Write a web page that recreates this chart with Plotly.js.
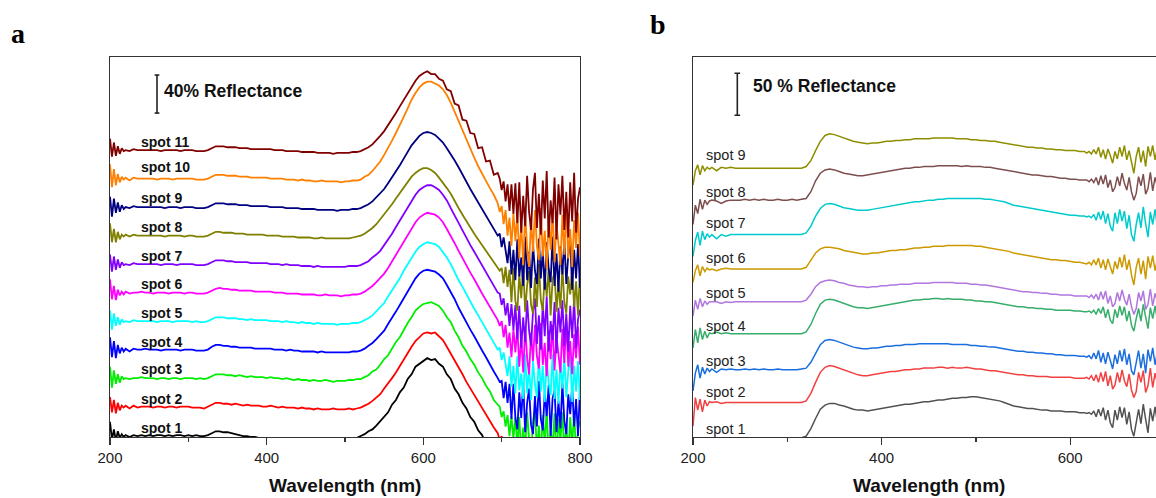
<!DOCTYPE html>
<html>
<head>
<meta charset="utf-8">
<script src="https://cdn.plot.ly/plotly-3.0.1.min.js"></script>
<style>
html,body{margin:0;padding:0;overflow:hidden;background:#fff;}
#chart{width:1170px;height:498px;}
</style>
</head>
<body>
<div id="chart"></div>
<script>
// ---------- Panel a data (wavelength in nm, reflectance in %, before stacking offsets) ----------
const wavelengthA = [200,202.5,205,207.5,210,212.5,215,217.5,220,
225,230,235,240,245,250,255,260,265,270,275,280,285,290,295,
300,305,310,315,320,325,330,335,340,345,350,355,360,365,370,375,380,385,390,395,
400,405,410,415,420,425,430,435,440,445,450,455,460,465,470,475,480,485,490,495,
500,505,510,515,520,525,530,535,540,545,550,555,560,565,570,575,580,585,590,595,
600,605,610,615,620,625,630,635,640,645,650,655,660,665,670,675,680,685,690,695,
697.5,700,702.5,705,707.5,710,712.5,715,717.5,720,722.5,725,727.5,730,732.5,735,737.5,740,742.5,745,
747.5,750,752.5,755,757.5,760,762.5,765,767.5,770,772.5,775,777.5,780,782.5,785,787.5,790,792.5,795,797.5,800];

const spotA1 = [16,-3,8,-4,6,-1,3,0,2,
0,2,1,2,1, 2,1,2,2,1,2,1,2,2,1, 2,1,2,1,1,2,4,6,6,5, 5,4,3,2,1,1,0,0,-1,-1,
-1,-2,-2,-2,-3,-3,-3,-3,-3,-3, -3,-3,-3,-3,-3,-3,-3,-3,-3,-3, -3,-3,-2,-1,1,3,6,8,12,17,
21,26,34,39,47,52,61,66,74,77, 80,83,81,82,77,74,66,61,51,45, 36,30,21,16,7,2,-7,-12,-21,-26,
-33,-38,-40,-45,-47,-50,-52,-55,-54,-58,-56,-60,-55,-58,-57,-60,-54,-59,-56,-58,
-57,-60,-55,-58,-56,-59,-57,-60,-55,-58,-57,-59,-56,-60,-55,-58,-57,-59,-56,-60,-55,-58];
const spotA2 = [12,-4,9,-5,6,-2,3,1,3,
0,3,1,2,2, 2,1,2,2,1,2,2,1,2,2, 2,1,1,1,0,2,4,6,6,5, 5,4,5,4,3,4,3,3,3,2,
2,3,2,1,2,1,1,1,0,1, 0,0,-1,0,-1,-1,-1,0,-1,-1, -1,0,-1,0,1,3,5,8,12,15,
21,26,32,38,45,51,59,65,71,75, 79,80,79,80,76,72,65,58,51,43, 36,28,21,14,8,0,-6,-13,-20,-26,
-33,-29,-44,-33,-56,-41,-65,-37,-60,-36,-75,-44,-80,-35,-66,-82,-41,-70,-34,-64,
-77,-32,-73,-52,-84,-39,-68,-34,-79,-44,-62,-80,-37,-71,-30,-75,-50,-82,-43,-66,-35,-73];
const spotA3 = [14,-8,10,-4,6,-3,4,1,2,
1,2,2,3,2, 2,2,1,2,2,1,2,2,1,2, 2,2,1,2,1,2,4,6,6,6, 5,5,4,5,4,3,4,3,3,3,
2,3,2,2,1,2,1,0,1,0, 0,-1,0,-1,-1,0,-1,-2,-1,-1, -1,0,0,1,1,3,5,9,11,16,
22,26,33,40,45,53,60,66,73,77, 80,81,82,80,78,73,66,61,52,45, 36,30,22,16,8,2,-6,-12,-21,-26,
-28,-39,-33,-49,-37,-59,-38,-62,-39,-70,-39,-79,-50,-73,-34,-62,-77,-44,-32,-75,
-48,-80,-37,-68,-30,-82,-53,-71,-35,-84,-41,-64,-34,-77,-46,-82,-39,-70,-32,-79,-52,-43];
const spotA4 = [15,-6,11,-7,7,-2,4,0,3,
0,3,2,2,3, 2,2,2,1,2,2,2,2,1,2, 2,2,1,1,1,2,5,7,7,6, 6,5,5,4,4,4,4,3,3,3,
3,3,2,2,2,1,2,1,1,0, 0,0,0,-1,0,-1,-1,-1,-1,-1, -1,-1,0,0,1,3,6,9,13,17,
22,29,35,42,49,56,63,70,77,82, 85,86,85,84,81,77,70,63,55,46, 38,31,23,16,8,1,-6,-14,-21,-28,
-32,-31,-49,-32,-54,-34,-71,-34,-70,-82,-43,-70,-33,-85,-54,-39,-77,-87,-47,-79,
-31,-71,-83,-43,-68,-35,-89,-49,-41,-85,-52,-81,-33,-73,-87,-45,-66,-37,-79,-50,-89,-39];
const spotA5 = [13,-7,10,-3,6,-2,4,1,2,
1,3,2,2,2, 2,2,1,2,2,2,1,2,2,2, 2,1,2,1,1,2,4,6,6,6, 5,5,5,4,4,3,4,3,3,3,
3,2,2,2,1,2,1,1,0,1, 0,0,-1,0,-1,-1,-1,-1,-2,-1, -1,-1,0,0,1,3,5,8,12,16,
21,28,34,40,47,55,62,69,75,80, 83,85,84,83,80,75,69,62,53,45, 38,30,22,15,8,1,-6,-14,-20,-28,
-26,-39,-31,-46,-56,-35,-67,-45,-74,-35,-71,-53,-80,-33,-74,-47,-81,-40,-65,-78,
-35,-72,-45,-83,-38,-63,-76,-33,-80,-49,-85,-42,-69,-36,-78,-51,-35,-83,-45,-72,-40,-81];
const spotA6 = [16,-5,9,-6,5,-1,3,0,3,
1,2,2,3,2, 2,1,2,2,2,1,2,2,2,1, 2,2,1,1,1,2,4,6,7,6, 6,5,5,4,4,4,4,3,3,3,
3,3,2,2,2,1,1,1,1,0, 0,0,0,-1,-1,0,-1,-1,-1,-2, -1,-1,0,0,1,3,6,9,13,17,
22,28,35,41,48,56,63,70,76,81, 84,86,85,84,81,76,69,62,54,46, 38,30,23,16,8,1,-6,-13,-20,-27,
-33,-28,-45,-32,-56,-40,-66,-36,-61,-35,-76,-44,-82,-34,-67,-84,-40,-70,-32,-65,
-78,-30,-74,-51,-86,-38,-68,-32,-80,-44,-63,-82,-36,-72,-28,-76,-49,-84,-42,-67,-34,-74];
const spotA7 = [12,-6,10,-4,7,-2,4,1,2,
1,3,2,2,2, 2,2,2,1,2,2,2,1,2,2, 2,2,1,1,1,2,4,6,6,6, 5,5,4,4,4,4,3,3,3,3,
3,2,2,2,1,2,1,1,1,0, 0,0,-1,0,-1,-1,-1,-1,-1,-1, -1,0,0,0,1,3,5,9,12,16,
22,27,34,41,48,55,62,69,75,80, 83,85,85,83,80,75,69,61,53,46, 38,30,22,15,8,1,-7,-14,-21,-28,
-29,-41,-34,-52,-39,-63,-40,-67,-41,-77,-42,-86,-54,-80,-36,-68,-84,-48,-34,-82,
-52,-88,-40,-74,-32,-90,-58,-78,-38,-92,-44,-70,-36,-84,-50,-90,-42,-76,-34,-86,-56,-46];
const spotA8 = [15,-5,9,-5,6,-2,3,1,3,
1,3,2,2,2, 2,2,2,2,1,2,2,2,2,1, 2,2,1,1,1,2,4,6,6,5, 5,5,4,4,4,3,3,3,3,3,
2,2,2,2,1,1,1,1,0,0, 0,0,-1,-1,0,-1,-1,-1,-1,-1, -1,-1,0,1,2,4,7,10,14,19,
24,29,35,41,47,53,59,64,68,71, 73,73,71,68,63,58,52,46,38,31, 24,17,10,4,-2,-8,-14,-20,-26,-31,
-35,-32,-48,-31,-52,-34,-68,-32,-67,-77,-39,-64,-30,-78,-50,-35,-71,-80,-42,-73,
-28,-66,-77,-39,-62,-32,-82,-44,-37,-78,-48,-75,-30,-68,-80,-41,-60,-33,-73,-46,-82,-35];
const spotA9 = [13,-8,11,-4,7,-3,4,0,2,
1,3,2,2,2, 2,2,2,2,1,2,2,2,1,2, 2,2,1,1,1,2,4,6,6,6, 5,5,5,4,4,4,3,3,3,3,
3,2,2,2,2,1,1,1,1,0, 0,0,0,-1,-1,-1,-1,-1,-2,-1, -1,-1,0,0,1,3,5,8,12,16,
21,27,33,39,46,53,60,67,72,77, 80,81,80,78,74,70,64,58,51,44, 36,28,21,14,7,0,-7,-14,-20,-28,
-26,-40,-30,-46,-57,-34,-69,-43,-75,-32,-71,-51,-81,-29,-75,-45,-83,-37,-65,-79,
-31,-73,-43,-85,-35,-63,-77,-29,-81,-47,-87,-39,-69,-33,-79,-49,-31,-85,-43,-73,-37,-83];
const spotA10 = [17,-7,12,-5,7,-2,4,1,3,
0,3,2,2,2, 2,2,1,2,2,2,1,2,2,2, 2,2,1,1,1,2,4,6,6,6, 5,5,5,4,4,4,3,3,3,3,
3,2,2,2,2,1,1,1,0,1, 0,0,-1,-1,0,-1,-1,-1,-1,-2, -1,-1,0,0,1,4,6,10,15,20,
27,34,42,50,58,67,76,85,92,98, 102,104,104,102,100,96,90,82,72,63, 53,44,34,24,15,7,0,-8,-15,-24,
-33,-27,-46,-31,-58,-39,-69,-34,-64,-35,-82,-45,-89,-34,-71,-91,-40,-75,-31,-69,
-84,-29,-80,-53,-93,-38,-73,-31,-86,-45,-67,-89,-36,-78,-27,-82,-51,-91,-42,-71,-34,-80];
const spotA11 = [14,-5,10,-4,6,-2,4,1,2,
1,3,2,2,2, 2,2,2,1,2,2,2,2,1,2, 2,2,1,1,1,2,4,6,6,6, 5,5,5,4,4,4,3,3,3,3,
3,3,2,2,2,1,1,1,1,0, 0,0,0,-1,-1,-1,-1,-2,-1,-1, -1,-1,0,0,1,3,5,8,12,17,
22,28,34,41,48,55,62,69,75,80, 83,85,82,82,77,75,66,64,51,49, 34,33,20,19,4,5,-10,-9,-24,-22,
-28,-40,-31,-52,-34,-62,-34,-65,-33,-75,-32,-85,-46,-78,-25,-63,-82,-39,-22,-80,
-44,-87,-30,-70,-20,-90,-51,-75,-27,-92,-34,-66,-25,-82,-42,-90,-32,-73,-22,-85,-49,-37];

const seriesA = [spotA1,spotA2,spotA3,spotA4,spotA5,spotA6,spotA7,spotA8,spotA9,spotA10,spotA11];
const namesA = ['spot 1','spot 2','spot 3','spot 4','spot 5','spot 6','spot 7','spot 8','spot 9','spot 10','spot 11'];
const offsetsA = [0,30,60,90,120,150,180,210,240,270,300];

// ---------- Panel b data ----------
const wavelengthB = [200,202.5,205,207.5,210,212.5,215,217.5,220,
225,230,235,240,245,250,255,260,265,270,275,280,285,290,295,
300,305,310,315,320,325,330,335,340,345,350,355,360,365,370,375,380,385,390,395,
400,405,410,415,420,425,430,435,440,445,450,455,460,465,470,475,480,485,490,495,
500,505,510,515,520,525,530,535,540,545,550,555,560,565,570,575,580,585,590,595,
600,605,610,615,
617.5,620,622.5,625,627.5,630,632.5,635,637.5,640,642.5,645,647.5,650,652.5,655,657.5,660,662.5,665,667.5,670,
672.5,675,677.5,680,682.5,685,687.5,690,692.5,695,697.5,700];

const spotB1 = [-4,-2,-3,-1,-2,-1,-1,-1,-1,
-1,-1,-1,-1,-1, -1,-1,-1,-1,-1,-1,-1,-1,-1,-1, -1,-1,-1,-1,1,10,22,33,38,40, 40,38,37,35,33,32,32,31,32,33,
34,35,36,37,38,39,39,40,41,42, 42,43,44,44,45,46,46,47,47,48, 48,47,46,45,44,43,41,39,37,36,
35,34,34,33,32,32,31,31,31,30, 30,30,29,29,
28,29,27,31,24,33,25,35,20,32,17,11,32,20,36,23,35,15,30,9,1,19,
33,16,39,21,5,34,19,36,17,31,38,22];
const spotB2 = [-27,7,-8,5,-10,4,-3,2,1,
2,0,1,1,1, 1,1,1,1,1,1,1,1,1,1, 1,1,1,1,3,12,25,37,43,45, 44,42,40,38,36,34,33,33,34,35,
36,37,38,38,39,40,40,41,41,42, 42,42,43,43,42,43,42,42,43,42, 41,41,40,39,39,38,37,36,35,34,
34,33,33,32,32,32,31,31,31,31, 31,30,30,30,
31,29,33,27,34,25,37,26,38,21,33,17,22,37,25,40,27,20,35,16,7,14,
37,25,39,13,21,42,19,36,24,42,21,37];
const spotB3 = [-25,-4,6,-10,3,-5,2,-2,1,
-3,1,0,1,0, 0,1,0,1,0,1,0,0,1,0, 0,0,0,1,2,9,20,30,35,36, 35,33,31,29,27,26,25,25,26,26,
27,28,28,29,29,30,30,30,31,31, 31,31,31,31,31,30,30,30,30,29, 29,28,28,27,27,26,25,24,23,22,
22,21,21,20,20,19,19,18,18,17, 17,17,16,16,
15,17,13,20,13,23,9,20,7,21,11,1,18,7,23,10,25,6,19,-1,-6,10,
23,2,19,-4,24,10,26,6,22,7,27,9];
const spotB4 = [-14,8,-8,10,-4,6,-2,4,3,
5,3,4,3,3, 3,3,3,3,3,3,3,3,3,3, 3,3,3,3,5,14,27,38,43,44, 43,41,39,37,35,34,34,33,34,35,
36,37,38,39,40,41,42,43,43,44, 44,45,45,44,45,44,44,44,43,43, 42,42,41,41,40,39,38,37,36,35,
35,34,34,33,33,32,32,31,31,31, 31,30,30,29,
29,30,28,31,26,33,27,35,22,32,19,15,32,22,36,25,35,18,30,13,6,21,
33,18,38,23,9,34,21,36,19,31,37,24];
const spotB5 = [-16,3,-8,5,-5,2,-2,1,1,
1,-1,1,0,1, 1,1,1,1,1,1,1,1,1,1, 1,1,1,1,3,10,19,24,26,27, 26,24,23,21,20,19,19,18,19,19,
20,20,21,21,22,22,22,23,23,23, 23,24,24,24,24,24,23,23,23,22, 22,21,21,20,19,18,17,16,15,14,
13,13,12,12,11,11,10,10,9,9, 9,8,8,8,
8,6,9,5,10,3,13,4,14,-1,8,-5,-1,12,2,15,4,-3,10,-5,-14,-7,
12,2,14,-8,-2,16,-4,11,1,16,-2,12];
const spotB6 = [-16,-2,5,-8,3,-3,1,-1,0,
-2,0,1,0,0, 0,0,0,0,0,0,0,0,0,0, 0,0,0,0,2,10,19,24,26,26, 25,24,22,21,20,19,18,18,19,19,
20,21,22,22,23,23,24,25,25,26, 26,27,27,27,28,28,28,28,28,28, 27,27,26,25,24,23,22,21,19,18,
17,16,15,14,13,12,11,11,10,10, 9,8,8,7,
6,8,5,11,5,13,1,11,-1,12,3,-6,9,0,14,2,17,-1,11,-7,-19,2,
13,-6,10,-12,15,1,16,-2,12,-1,17,0];
const spotB7 = [-25,-6,4,-12,5,-5,2,-2,1,
-4,1,-1,1,1, 1,1,1,1,1,1,1,1,1,1, 1,1,1,1,3,11,23,32,37,38, 37,35,33,32,31,30,30,30,31,32,
33,34,35,36,37,38,39,40,40,41, 42,42,43,43,44,44,44,44,44,44, 44,44,43,43,42,41,40,38,36,35,
34,33,32,31,30,29,28,27,26,25, 24,24,23,23,
22,23,21,25,18,28,19,29,14,26,11,5,27,14,31,17,29,8,24,1,-7,13,
27,9,34,14,-2,28,13,31,10,26,33,16];
const spotB8 = [-27,-4,-14,3,-9,2,-3,1,2,
1,-2,1,2,2, 2,3,2,3,2,3,2,2,3,2, 2,3,2,3,4,12,25,34,38,39, 38,36,34,33,32,31,31,32,33,34,
35,36,37,38,39,40,40,41,41,42, 42,42,43,43,43,43,43,42,43,42, 42,42,41,41,40,39,38,37,36,35,
34,33,32,32,31,30,30,29,28,28, 27,27,26,26,
26,24,27,23,29,20,31,21,32,17,26,12,17,30,19,34,22,14,29,12,2,10,
30,19,33,9,16,35,13,29,18,35,16,30];
const spotB9 = [-20,-3,4,-8,3,-3,1,-1,1,
-3,1,0,1,0, 0,0,0,0,0,0,0,0,0,0, 0,0,0,0,2,9,21,32,39,41, 40,38,36,34,32,31,30,29,30,30,
31,32,32,33,33,34,34,35,35,35, 35,36,36,36,36,36,35,35,35,34, 34,33,33,32,32,31,30,29,28,27,
26,25,25,24,24,23,23,22,22,21, 21,21,20,20,
18,20,17,22,17,25,13,22,11,23,15,6,20,11,25,14,27,10,21,5,-6,14,
25,7,21,2,26,14,27,10,24,11,28,13];

const seriesB = [spotB1,spotB2,spotB3,spotB4,spotB5,spotB6,spotB7,spotB8,spotB9];
const namesB = ['spot 1','spot 2','spot 3','spot 4','spot 5','spot 6','spot 7','spot 8','spot 9'];
const offsetsB = [0,40,80,120,160,200,240,280,320];

// ---------- Styles ----------
const colorsA = ['#000000','#ff0000','#00ee00','#0000ff','#00ffff','#ff00ff','#8000ff','#808000','#000080','#ff8000','#800000'];
const colorsB = ['#515151','#f14040','#1a6fdf','#37ad6b','#b177de','#cc9900','#00cbcc','#7d4e4e','#8e8e00'];
const labelYA = [9.5,40,71.6,100,130.5,161,190.5,221,252,284,310.5];
const labelYB = [9,53,91,132.7,172,213.7,255,292,336];

const W = 1170, H = 498;
const traces = [];
seriesA.forEach((s,i)=>{
  traces.push({x: wavelengthA, y: s.map(v=>v+offsetsA[i]), type:'scatter', mode:'lines',
    name: namesA[i], xaxis:'x', yaxis:'y', line:{color: colorsA[i], width:1.8}, hoverinfo:'skip'});
});
seriesB.forEach((s,i)=>{
  traces.push({x: wavelengthB, y: s.map(v=>v+offsetsB[i]), type:'scatter', mode:'lines',
    name: namesB[i], xaxis:'x2', yaxis:'y2', line:{color: colorsB[i], width:1.5}, hoverinfo:'skip'});
});

const FONT = 'Liberation Sans, Arial, sans-serif';
const yDom = [(H-437)/H, (H-57)/H];
const axLine = {showline:true, mirror:true, linecolor:'#333', linewidth:1.3, showgrid:false, zeroline:false};

const annotations = [];
namesA.forEach((n,i)=>annotations.push({xref:'x', yref:'y', x:236.5, y:labelYA[i], text:'<b>'+n+'</b>',
  showarrow:false, xanchor:'left', yanchor:'middle', font:{family:FONT, size:14, color:'#111'}}));
namesB.forEach((n,i)=>annotations.push({xref:'x2', yref:'y2', x:211.5, y:labelYB[i], text:n,
  showarrow:false, xanchor:'left', yanchor:'middle', font:{family:FONT, size:14.5, color:'#222'}}));
annotations.push({xref:'x', yref:'y', x:266, y:364, text:'<b>40% Reflectance</b>', showarrow:false,
  xanchor:'left', yanchor:'middle', font:{family:FONT, size:17.5, color:'#111'}});
annotations.push({xref:'x2', yref:'y2', x:261, y:418, text:'<b>50 % Reflectance</b>', showarrow:false,
  xanchor:'left', yanchor:'middle', font:{family:FONT, size:17.5, color:'#111'}});
annotations.push({xref:'paper', yref:'paper', x:345/W, y:0, text:'<b>Wavelength (nm)</b>', showarrow:false,
  xanchor:'center', yanchor:'bottom', font:{family:FONT, size:19, color:'#111'}});
annotations.push({xref:'paper', yref:'paper', x:929/W, y:0, text:'<b>Wavelength (nm)</b>', showarrow:false,
  xanchor:'center', yanchor:'bottom', font:{family:FONT, size:19, color:'#111'}});
annotations.push({xref:'paper', yref:'paper', x:18/W, y:1-33/H, text:'<b>a</b>', showarrow:false,
  xanchor:'center', yanchor:'middle', font:{family:'Liberation Serif, Times New Roman, serif', size:28, color:'#000'}});
annotations.push({xref:'paper', yref:'paper', x:658/W, y:1-24/H, text:'<b>b</b>', showarrow:false,
  xanchor:'center', yanchor:'middle', font:{family:'Liberation Serif, Times New Roman, serif', size:28, color:'#000'}});

const barStyle = {color:'#222', width:1.6};
const shapes = [
  {type:'line', xref:'x', yref:'y', x0:260, x1:260, y0:341, y1:381, line:barStyle},
  {type:'line', xref:'x', yref:'y', x0:257, x1:263, y0:341, y1:341, line:barStyle},
  {type:'line', xref:'x', yref:'y', x0:257, x1:263, y0:381, y1:381, line:barStyle},
  {type:'line', xref:'x2', yref:'y2', x0:247, x1:247, y0:383, y1:433, line:barStyle},
  {type:'line', xref:'x2', yref:'y2', x0:244, x1:250, y0:383, y1:383, line:barStyle},
  {type:'line', xref:'x2', yref:'y2', x0:244, x1:250, y0:433, y1:433, line:barStyle}
];

const layout = {
  width:W, height:H, margin:{l:0,r:0,t:0,b:0}, showlegend:false,
  paper_bgcolor:'#fff', plot_bgcolor:'#fff',
  xaxis: Object.assign({}, axLine, {domain:[110/W, 580/W], range:[200,800], anchor:'y',
    tickvals:[200,400,600,800], ticktext:['200','400','600','800'], ticks:'outside', ticklen:7, tickwidth:1.3, tickcolor:'#333',
    minor:{tickvals:[300,500,700], ticks:'outside', ticklen:4, tickwidth:1.2, tickcolor:'#333'},
    tickfont:{family:FONT, size:15, color:'#222'}}),
  yaxis: Object.assign({}, axLine, {domain:yDom, range:[0,400], anchor:'x', showticklabels:false, ticks:''}),
  xaxis2: Object.assign({}, axLine, {domain:[693/W, 1164.5/W], range:[200,700], anchor:'y2',
    tickvals:[200,400,600], ticktext:['200','400','600'], ticks:'outside', ticklen:7, tickwidth:1.3, tickcolor:'#333',
    minor:{tickvals:[300,500], ticks:'outside', ticklen:4, tickwidth:1.2, tickcolor:'#333'},
    tickfont:{family:FONT, size:15, color:'#222'}}),
  yaxis2: Object.assign({}, axLine, {domain:yDom, range:[0,452.4], anchor:'x2', showticklabels:false, ticks:''}),
  annotations: annotations, shapes: shapes
};

Plotly.newPlot('chart', traces, layout, {staticPlot:true, displayModeBar:false});
</script>
</body>
</html>
